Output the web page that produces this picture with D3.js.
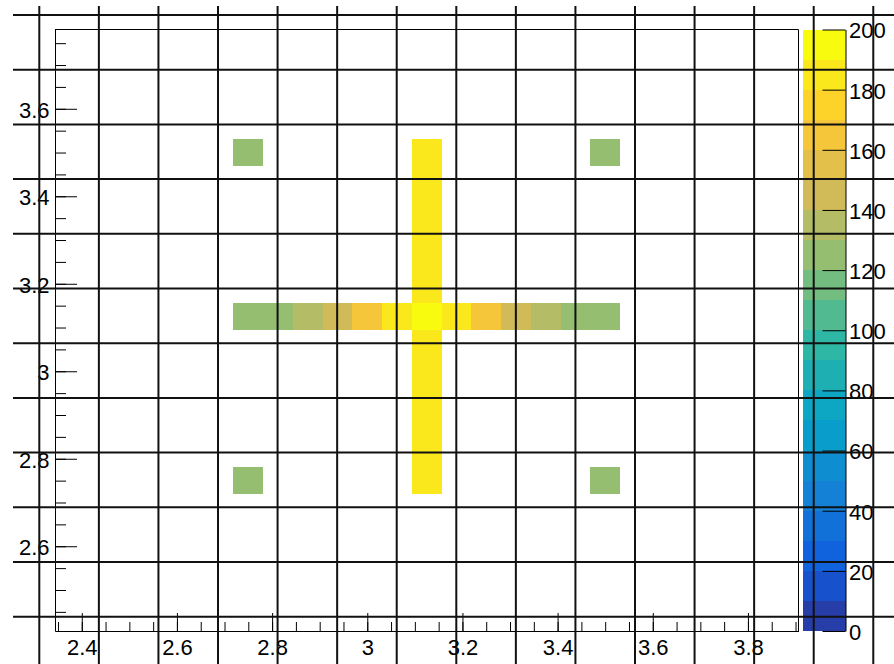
<!doctype html>
<html lang="en">
<head>
<meta charset="UTF-8">
<title>2D histogram (COLZ)</title>
<script src="https://d3js.org/d3.v7.min.js"></script>
<style>
    body { margin: 0; background: #fff; }
    svg { display: block; }
    text { font-family: "Liberation Sans", Arial, sans-serif; font-size: 22px; fill: #000; }
</style>
</head>
<body>
<svg id="chart" width="894" height="664"></svg>
<script>
// histogram axes (25 x 22 bins of 0.0625)
const xRange = [2.34375, 3.90625];
const yRange = [2.40625, 3.78125];
const binW = 0.0625;
const zRange = [0, 200];
const nContours = 20;

// horizontal arm of the cross (y = 3.125)
const rowY = 3.125;
const rowX = [2.75, 2.8125, 2.875, 2.9375, 3.0, 3.0625, 3.125, 3.1875, 3.25, 3.3125, 3.375, 3.4375, 3.5];
const rowValues = [125, 125, 135, 145, 165, 185, 195, 185, 165, 145, 135, 125, 125];

// vertical arm of the cross (x = 3.125), centre cell is in the row
const colX = 3.125;
const colY = [2.75, 2.8125, 2.875, 2.9375, 3.0, 3.0625, 3.1875, 3.25, 3.3125, 3.375, 3.4375, 3.5];
const colValues = [185, 185, 185, 185, 185, 185, 185, 185, 185, 185, 185, 185];

// four corner cells
const cornerX = [2.75, 3.5, 2.75, 3.5];
const cornerY = [3.5, 3.5, 2.75, 2.75];
const cornerValues = [125, 125, 125, 125];

const xTicks = [2.4, 2.6, 2.8, 3.0, 3.2, 3.4, 3.6, 3.8];
const yTicks = [2.6, 2.8, 3.0, 3.2, 3.4, 3.6];
const zTicks = [0, 20, 40, 60, 80, 100, 120, 140, 160, 180, 200];

// ROOT kBird palette stops
const birdR = [0.2082, 0.0592, 0.0780, 0.0232, 0.1802, 0.5301, 0.8186, 0.9956, 0.9764];
const birdG = [0.1664, 0.3599, 0.5041, 0.6419, 0.7178, 0.7492, 0.7328, 0.7862, 0.9832];
const birdB = [0.5293, 0.8684, 0.8385, 0.7914, 0.6425, 0.4662, 0.3499, 0.1968, 0.0539];

function bird(t) {
    const s = Math.max(0, Math.min(1, t)) * 8;
    const i = Math.min(7, Math.floor(s));
    const f = s - i;
    const c = arr => Math.round(255 * (arr[i] + f * (arr[i + 1] - arr[i])));
    return d3.rgb(c(birdR), c(birdG), c(birdB)).formatHex();
}

function bandColor(band) {
    const idx = Math.floor((band + 0.99) * 255 / nContours);
    return bird(idx / 254);
}

function valueColor(v) {
    const band = Math.min(nContours - 1, Math.floor((v - zRange[0]) / ((zRange[1] - zRange[0]) / nContours)));
    return bandColor(band);
}

const svg = d3.select("#chart");

const frame = { left: 55, right: 798.5, top: 29.5, bottom: 631 };
const pal = { left: 803, right: 845.5 };

const x = d3.scaleLinear().domain(xRange).range([frame.left, frame.right]);
const y = d3.scaleLinear().domain(yRange).range([frame.bottom, frame.top]);
const z = d3.scaleLinear().domain(zRange).range([frame.bottom, frame.top]);

// collect cells
const cells = [];
rowX.forEach((cx, i) => cells.push({ cx, cy: rowY, v: rowValues[i] }));
colY.forEach((cy, i) => cells.push({ cx: colX, cy, v: colValues[i] }));
cornerX.forEach((cx, i) => cells.push({ cx, cy: cornerY[i], v: cornerValues[i] }));

svg.append("g")
    .attr("shape-rendering", "crispEdges")
    .selectAll("rect")
    .data(cells)
    .join("rect")
    .attr("x", d => x(d.cx - binW / 2))
    .attr("y", d => y(d.cy + binW / 2))
    .attr("width", d => x(d.cx + binW / 2) - x(d.cx - binW / 2))
    .attr("height", d => y(d.cy - binW / 2) - y(d.cy + binW / 2))
    .attr("fill", d => valueColor(d.v));

// frame top / right
svg.append("path")
    .attr("d", `M${frame.left},${frame.top}H${frame.right}V${frame.bottom}`)
    .attr("fill", "none")
    .attr("stroke", "#000")
    .attr("stroke-width", 1);

// x axis
const xAxisG = svg.append("g").attr("transform", `translate(0,${frame.bottom})`);
xAxisG.call(d3.axisBottom(x).tickValues(d3.range(2.35, 3.91, 0.05)).tickSize(-9).tickSizeOuter(0).tickFormat(""));
xAxisG.append("g").call(d3.axisBottom(x).tickValues(xTicks).tickSize(-18).tickSizeOuter(0)
    .tickFormat(d => d3.format("")(+d.toFixed(1))))
    .call(g => g.select(".domain").remove());
xAxisG.selectAll("text").attr("y", 8.5).attr("dy", "0.71em").style("font-size", "22px")
    .style("font-family", "'Liberation Sans', Arial, sans-serif");

// y axis
const yAxisG = svg.append("g").attr("transform", `translate(${frame.left},0)`);
yAxisG.call(d3.axisLeft(y).tickValues(d3.range(2.45, 3.78, 0.05)).tickSize(-11).tickSizeOuter(0).tickFormat(""));
yAxisG.append("g").call(d3.axisLeft(y).tickValues(yTicks).tickSize(-22).tickSizeOuter(0)
    .tickFormat(d => d3.format("")(+d.toFixed(1))))
    .call(g => g.select(".domain").remove());
yAxisG.selectAll("text").attr("x", -5.5).attr("dy", "0.38em").style("font-size", "22px")
    .style("font-family", "'Liberation Sans', Arial, sans-serif");

svg.selectAll(".tick line, .domain").attr("stroke", "#000");

// palette
svg.append("g")
    .attr("shape-rendering", "crispEdges")
    .selectAll("rect")
    .data(d3.range(nContours))
    .join("rect")
    .attr("x", pal.left)
    .attr("width", pal.right - pal.left)
    .attr("y", i => z(zRange[0] + (i + 1) * (zRange[1] - zRange[0]) / nContours))
    .attr("height", i => z(zRange[0] + i * (zRange[1] - zRange[0]) / nContours) - z(zRange[0] + (i + 1) * (zRange[1] - zRange[0]) / nContours))
    .attr("fill", i => bandColor(i));

const zAxisG = svg.append("g").attr("transform", `translate(${pal.right},0)`);
zAxisG.call(d3.axisRight(z).tickValues(zTicks).tickSize(-23).tickSizeOuter(0).tickFormat(d3.format("d")));
zAxisG.selectAll("text").attr("x", 3.5).attr("dy", "0.38em").style("font-size", "22px")
    .style("font-family", "'Liberation Sans', Arial, sans-serif");
zAxisG.selectAll(".tick line, .domain").attr("stroke", "#000");

// overlaid black grid
const vGrid = d3.range(15).map(k => 39.3 + k * 59.57);
const hGrid = d3.range(12).map(k => 15 + k * 54.7);
const grid = svg.append("g").attr("stroke", "#111").attr("stroke-width", 2);
grid.selectAll(".v").data(vGrid).join("line").attr("class", "v")
    .attr("x1", d => d).attr("x2", d => d).attr("y1", 6).attr("y2", 664);
grid.selectAll(".h").data(hGrid).join("line").attr("class", "h")
    .attr("x1", 13).attr("x2", 894).attr("y1", d => d).attr("y2", d => d);
</script>
</body>
</html>
